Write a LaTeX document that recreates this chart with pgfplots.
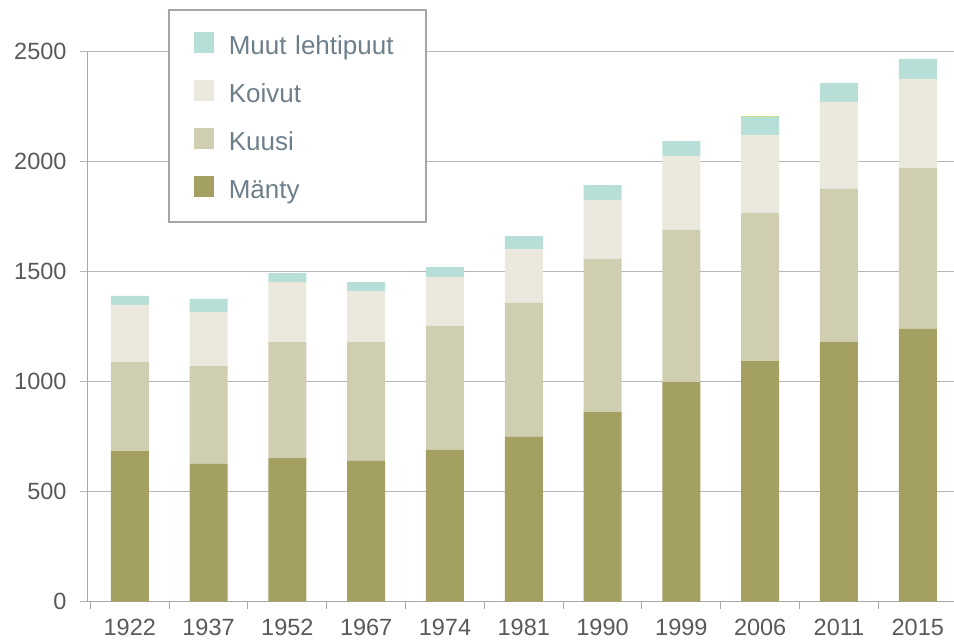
\documentclass[border=0pt]{standalone}
\usepackage{pgfplots}
\pgfplotsset{compat=1.18}
\usepackage{fontspec}
\setmainfont{Liberation Sans}
\definecolor{manty}{HTML}{A3A062}
\definecolor{kuusi}{HTML}{CFCEB0}
\definecolor{koivut}{HTML}{EBE9DD}
\definecolor{muut}{HTML}{B7DFD7}
\definecolor{extra}{HTML}{C9DE8E}
\definecolor{gridc}{HTML}{B5B5B5}
\definecolor{axisc}{HTML}{A8A8A8}
\definecolor{tickc}{HTML}{595959}
\definecolor{legtext}{HTML}{6E7F8C}
\definecolor{legframe}{HTML}{A3A7AB}
\begin{document}
\begin{tikzpicture}[x=1pt,y=1pt]
\path[use as bounding box] (0,0) rectangle (954,-640);
\begin{axis}[
  at={(88pt,-601.7pt)}, anchor=south west,
  scale only axis, width=866pt, height=550pt,
  ybar stacked, bar width=38pt,
  xmin=-0.53, xmax=10.46, ymin=0, ymax=2500,
  xtick={0,...,10},
  xticklabels={1922,1937,1952,1967,1974,1981,1990,1999,2006,2011,2015},
  minor xtick={-0.5,0.5,...,10.5},
  ytick={0,500,...,2500},
  tick align=outside,
  major x tick style={draw=none},
  minor x tick style={draw=axisc, line width=1pt},
  minor tick length=7pt,
  major tick length=8pt,
  y tick style={draw=gridc, line width=1.5pt},
  ymajorgrids, major grid style={draw=gridc, line width=1.5pt},
  axis x line*=bottom, axis y line*=left,
  axis line style={draw=axisc, line width=1pt, -},
  ticklabel style={font=\fontsize{23.5}{28}\selectfont, text=tickc},
  /pgf/number format/assume math mode=true,
  /pgf/number format/1000 sep={},
  yticklabel style={xshift=-10pt},
  xticklabel style={yshift=-6pt},
  clip=false,
  reverse legend,
  legend cell align=left,
  legend style={at={(rel axis cs:0.0924,1.0776)}, anchor=north west,
    draw=legframe, line width=1.5pt, fill=white,
    inner xsep=25pt, inner ysep=16pt,
    font=\fontsize{26}{30}\selectfont, text=legtext,
    nodes={inner sep=0pt, text height=29pt, text depth=7pt},
    row sep=12pt,
    /tikz/every odd column/.append style={column sep=15pt},
    /tikz/every even column/.append style={text width=172pt}},
  legend image code/.code={\fill[#1, draw=none] (0pt,-9pt) rectangle (20pt,12pt);},
]
\addplot[fill=manty, draw=none] coordinates {(0,685) (1,626) (2,653) (3,640) (4,690) (5,749) (6,862) (7,998) (8,1094) (9,1180) (10,1240)};
\addlegendentry{Mänty}
\addplot[fill=kuusi, draw=none] coordinates {(0,405) (1,445) (2,527) (3,540) (4,563) (5,609) (6,696) (7,693) (8,673) (9,696) (10,731)};
\addlegendentry{Kuusi}
\addplot[fill=koivut, draw=none] coordinates {(0,259) (1,246) (2,273) (3,232) (4,223) (5,245) (6,268) (7,335) (8,355) (9,396) (10,405)};
\addlegendentry{Koivut}
\addplot[fill=muut, draw=none] coordinates {(0,41) (1,59) (2,41) (3,41) (4,45) (5,59) (6,68) (7,68) (8,81) (9,86) (10,91)};
\addlegendentry{Muut lehtipuut}
\addplot[fill=extra, draw=none, forget plot] coordinates {(0,0) (1,0) (2,0) (3,0) (4,0) (5,0) (6,0) (7,0) (8,5) (9,0) (10,0)};
\end{axis}
\end{tikzpicture}
\end{document}
